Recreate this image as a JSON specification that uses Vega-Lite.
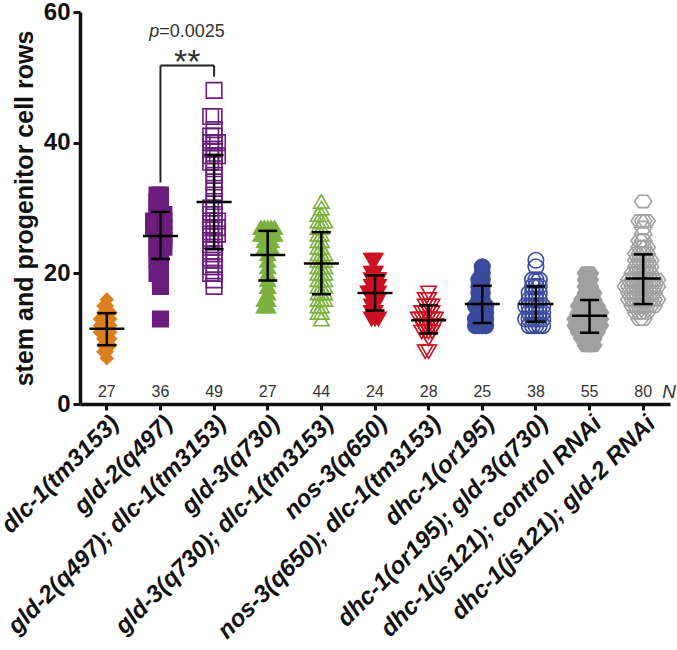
{
  "$schema": "https://vega.github.io/schema/vega-lite/v6.json",
  "width": 590,
  "height": 392,
  "autosize": "none",
  "padding": {"left": 80, "top": 12, "right": 7, "bottom": 246},
  "background": "white",
  "config": {
    "view": {"stroke": null},
    "font": "Liberation Sans",
    "axisY": {
      "labelFont": "Liberation Sans",
      "labelFontSize": 24,
      "labelFontWeight": "bold",
      "labelColor": "#111111",
      "labelPadding": 3,
      "tickSize": 7,
      "tickWidth": 3,
      "tickColor": "#111111",
      "domainWidth": 3.5,
      "domainColor": "#111111",
      "grid": false,
      "titleFont": "Liberation Sans",
      "titleFontSize": 25,
      "titleFontWeight": "bold",
      "titleColor": "#111111",
      "titlePadding": 6
    }
  },
  "datasets": {
    "points": [
      {"group":"dlc-1(tm3153)","value":7},{"group":"dlc-1(tm3153)","value":8},{"group":"dlc-1(tm3153)","value":8},{"group":"dlc-1(tm3153)","value":9},{"group":"dlc-1(tm3153)","value":9},{"group":"dlc-1(tm3153)","value":9},{"group":"dlc-1(tm3153)","value":10},{"group":"dlc-1(tm3153)","value":10},{"group":"dlc-1(tm3153)","value":10},{"group":"dlc-1(tm3153)","value":11},{"group":"dlc-1(tm3153)","value":11},{"group":"dlc-1(tm3153)","value":11},{"group":"dlc-1(tm3153)","value":11},{"group":"dlc-1(tm3153)","value":12},{"group":"dlc-1(tm3153)","value":12},{"group":"dlc-1(tm3153)","value":12},{"group":"dlc-1(tm3153)","value":12},{"group":"dlc-1(tm3153)","value":13},{"group":"dlc-1(tm3153)","value":13},{"group":"dlc-1(tm3153)","value":13},{"group":"dlc-1(tm3153)","value":13},{"group":"dlc-1(tm3153)","value":14},{"group":"dlc-1(tm3153)","value":14},{"group":"dlc-1(tm3153)","value":14},{"group":"dlc-1(tm3153)","value":15},{"group":"dlc-1(tm3153)","value":15},{"group":"dlc-1(tm3153)","value":16},
      {"group":"gld-2(q497)","value":13},{"group":"gld-2(q497)","value":18},{"group":"gld-2(q497)","value":19},{"group":"gld-2(q497)","value":20},{"group":"gld-2(q497)","value":20},{"group":"gld-2(q497)","value":21},{"group":"gld-2(q497)","value":22},{"group":"gld-2(q497)","value":22},{"group":"gld-2(q497)","value":23},{"group":"gld-2(q497)","value":23},{"group":"gld-2(q497)","value":24},{"group":"gld-2(q497)","value":24},{"group":"gld-2(q497)","value":24},{"group":"gld-2(q497)","value":25},{"group":"gld-2(q497)","value":25},{"group":"gld-2(q497)","value":25},{"group":"gld-2(q497)","value":26},{"group":"gld-2(q497)","value":26},{"group":"gld-2(q497)","value":26},{"group":"gld-2(q497)","value":27},{"group":"gld-2(q497)","value":27},{"group":"gld-2(q497)","value":27},{"group":"gld-2(q497)","value":27},{"group":"gld-2(q497)","value":28},{"group":"gld-2(q497)","value":28},{"group":"gld-2(q497)","value":28},{"group":"gld-2(q497)","value":28},{"group":"gld-2(q497)","value":29},{"group":"gld-2(q497)","value":29},{"group":"gld-2(q497)","value":29},{"group":"gld-2(q497)","value":30},{"group":"gld-2(q497)","value":30},{"group":"gld-2(q497)","value":31},{"group":"gld-2(q497)","value":31},{"group":"gld-2(q497)","value":32},{"group":"gld-2(q497)","value":32},
      {"group":"gld-2(q497); dlc-1(tm3153)","value":18},{"group":"gld-2(q497); dlc-1(tm3153)","value":19},{"group":"gld-2(q497); dlc-1(tm3153)","value":20},{"group":"gld-2(q497); dlc-1(tm3153)","value":20},{"group":"gld-2(q497); dlc-1(tm3153)","value":21},{"group":"gld-2(q497); dlc-1(tm3153)","value":21},{"group":"gld-2(q497); dlc-1(tm3153)","value":22},{"group":"gld-2(q497); dlc-1(tm3153)","value":22},{"group":"gld-2(q497); dlc-1(tm3153)","value":23},{"group":"gld-2(q497); dlc-1(tm3153)","value":23},{"group":"gld-2(q497); dlc-1(tm3153)","value":24},{"group":"gld-2(q497); dlc-1(tm3153)","value":24},{"group":"gld-2(q497); dlc-1(tm3153)","value":25},{"group":"gld-2(q497); dlc-1(tm3153)","value":25},{"group":"gld-2(q497); dlc-1(tm3153)","value":26},{"group":"gld-2(q497); dlc-1(tm3153)","value":26},{"group":"gld-2(q497); dlc-1(tm3153)","value":26},{"group":"gld-2(q497); dlc-1(tm3153)","value":27},{"group":"gld-2(q497); dlc-1(tm3153)","value":27},{"group":"gld-2(q497); dlc-1(tm3153)","value":27},{"group":"gld-2(q497); dlc-1(tm3153)","value":28},{"group":"gld-2(q497); dlc-1(tm3153)","value":28},{"group":"gld-2(q497); dlc-1(tm3153)","value":28},{"group":"gld-2(q497); dlc-1(tm3153)","value":29},{"group":"gld-2(q497); dlc-1(tm3153)","value":29},{"group":"gld-2(q497); dlc-1(tm3153)","value":30},{"group":"gld-2(q497); dlc-1(tm3153)","value":30},{"group":"gld-2(q497); dlc-1(tm3153)","value":31},{"group":"gld-2(q497); dlc-1(tm3153)","value":32},{"group":"gld-2(q497); dlc-1(tm3153)","value":33},{"group":"gld-2(q497); dlc-1(tm3153)","value":34},{"group":"gld-2(q497); dlc-1(tm3153)","value":35},{"group":"gld-2(q497); dlc-1(tm3153)","value":36},{"group":"gld-2(q497); dlc-1(tm3153)","value":37},{"group":"gld-2(q497); dlc-1(tm3153)","value":37},{"group":"gld-2(q497); dlc-1(tm3153)","value":38},{"group":"gld-2(q497); dlc-1(tm3153)","value":38},{"group":"gld-2(q497); dlc-1(tm3153)","value":38},{"group":"gld-2(q497); dlc-1(tm3153)","value":39},{"group":"gld-2(q497); dlc-1(tm3153)","value":39},{"group":"gld-2(q497); dlc-1(tm3153)","value":40},{"group":"gld-2(q497); dlc-1(tm3153)","value":40},{"group":"gld-2(q497); dlc-1(tm3153)","value":40},{"group":"gld-2(q497); dlc-1(tm3153)","value":41},{"group":"gld-2(q497); dlc-1(tm3153)","value":41},{"group":"gld-2(q497); dlc-1(tm3153)","value":42},{"group":"gld-2(q497); dlc-1(tm3153)","value":44},{"group":"gld-2(q497); dlc-1(tm3153)","value":44},{"group":"gld-2(q497); dlc-1(tm3153)","value":48},
      {"group":"gld-3(q730)","value":15},{"group":"gld-3(q730)","value":15},{"group":"gld-3(q730)","value":16},{"group":"gld-3(q730)","value":16},{"group":"gld-3(q730)","value":17},{"group":"gld-3(q730)","value":18},{"group":"gld-3(q730)","value":19},{"group":"gld-3(q730)","value":20},{"group":"gld-3(q730)","value":21},{"group":"gld-3(q730)","value":22},{"group":"gld-3(q730)","value":23},{"group":"gld-3(q730)","value":24},{"group":"gld-3(q730)","value":24},{"group":"gld-3(q730)","value":24},{"group":"gld-3(q730)","value":25},{"group":"gld-3(q730)","value":25},{"group":"gld-3(q730)","value":25},{"group":"gld-3(q730)","value":26},{"group":"gld-3(q730)","value":26},{"group":"gld-3(q730)","value":26},{"group":"gld-3(q730)","value":26},{"group":"gld-3(q730)","value":26},{"group":"gld-3(q730)","value":27},{"group":"gld-3(q730)","value":27},{"group":"gld-3(q730)","value":27},{"group":"gld-3(q730)","value":27},{"group":"gld-3(q730)","value":27},
      {"group":"gld-3(q730); dlc-1(tm3153)","value":13},{"group":"gld-3(q730); dlc-1(tm3153)","value":14},{"group":"gld-3(q730); dlc-1(tm3153)","value":14},{"group":"gld-3(q730); dlc-1(tm3153)","value":15},{"group":"gld-3(q730); dlc-1(tm3153)","value":15},{"group":"gld-3(q730); dlc-1(tm3153)","value":16},{"group":"gld-3(q730); dlc-1(tm3153)","value":16},{"group":"gld-3(q730); dlc-1(tm3153)","value":16},{"group":"gld-3(q730); dlc-1(tm3153)","value":17},{"group":"gld-3(q730); dlc-1(tm3153)","value":17},{"group":"gld-3(q730); dlc-1(tm3153)","value":17},{"group":"gld-3(q730); dlc-1(tm3153)","value":18},{"group":"gld-3(q730); dlc-1(tm3153)","value":18},{"group":"gld-3(q730); dlc-1(tm3153)","value":18},{"group":"gld-3(q730); dlc-1(tm3153)","value":19},{"group":"gld-3(q730); dlc-1(tm3153)","value":19},{"group":"gld-3(q730); dlc-1(tm3153)","value":19},{"group":"gld-3(q730); dlc-1(tm3153)","value":20},{"group":"gld-3(q730); dlc-1(tm3153)","value":20},{"group":"gld-3(q730); dlc-1(tm3153)","value":20},{"group":"gld-3(q730); dlc-1(tm3153)","value":21},{"group":"gld-3(q730); dlc-1(tm3153)","value":21},{"group":"gld-3(q730); dlc-1(tm3153)","value":21},{"group":"gld-3(q730); dlc-1(tm3153)","value":22},{"group":"gld-3(q730); dlc-1(tm3153)","value":22},{"group":"gld-3(q730); dlc-1(tm3153)","value":22},{"group":"gld-3(q730); dlc-1(tm3153)","value":23},{"group":"gld-3(q730); dlc-1(tm3153)","value":23},{"group":"gld-3(q730); dlc-1(tm3153)","value":23},{"group":"gld-3(q730); dlc-1(tm3153)","value":24},{"group":"gld-3(q730); dlc-1(tm3153)","value":24},{"group":"gld-3(q730); dlc-1(tm3153)","value":25},{"group":"gld-3(q730); dlc-1(tm3153)","value":25},{"group":"gld-3(q730); dlc-1(tm3153)","value":26},{"group":"gld-3(q730); dlc-1(tm3153)","value":26},{"group":"gld-3(q730); dlc-1(tm3153)","value":27},{"group":"gld-3(q730); dlc-1(tm3153)","value":27},{"group":"gld-3(q730); dlc-1(tm3153)","value":28},{"group":"gld-3(q730); dlc-1(tm3153)","value":28},{"group":"gld-3(q730); dlc-1(tm3153)","value":28},{"group":"gld-3(q730); dlc-1(tm3153)","value":29},{"group":"gld-3(q730); dlc-1(tm3153)","value":29},{"group":"gld-3(q730); dlc-1(tm3153)","value":30},{"group":"gld-3(q730); dlc-1(tm3153)","value":31},
      {"group":"nos-3(q650)","value":13},{"group":"nos-3(q650)","value":13},{"group":"nos-3(q650)","value":13},{"group":"nos-3(q650)","value":14},{"group":"nos-3(q650)","value":14},{"group":"nos-3(q650)","value":15},{"group":"nos-3(q650)","value":15},{"group":"nos-3(q650)","value":16},{"group":"nos-3(q650)","value":16},{"group":"nos-3(q650)","value":16},{"group":"nos-3(q650)","value":17},{"group":"nos-3(q650)","value":17},{"group":"nos-3(q650)","value":17},{"group":"nos-3(q650)","value":17},{"group":"nos-3(q650)","value":18},{"group":"nos-3(q650)","value":18},{"group":"nos-3(q650)","value":18},{"group":"nos-3(q650)","value":19},{"group":"nos-3(q650)","value":19},{"group":"nos-3(q650)","value":19},{"group":"nos-3(q650)","value":20},{"group":"nos-3(q650)","value":20},{"group":"nos-3(q650)","value":22},{"group":"nos-3(q650)","value":22},
      {"group":"nos-3(q650); dlc-1(tm3153)","value":8},{"group":"nos-3(q650); dlc-1(tm3153)","value":8},{"group":"nos-3(q650); dlc-1(tm3153)","value":10},{"group":"nos-3(q650); dlc-1(tm3153)","value":11},{"group":"nos-3(q650); dlc-1(tm3153)","value":11},{"group":"nos-3(q650); dlc-1(tm3153)","value":11},{"group":"nos-3(q650); dlc-1(tm3153)","value":11},{"group":"nos-3(q650); dlc-1(tm3153)","value":12},{"group":"nos-3(q650); dlc-1(tm3153)","value":12},{"group":"nos-3(q650); dlc-1(tm3153)","value":12},{"group":"nos-3(q650); dlc-1(tm3153)","value":12},{"group":"nos-3(q650); dlc-1(tm3153)","value":12},{"group":"nos-3(q650); dlc-1(tm3153)","value":13},{"group":"nos-3(q650); dlc-1(tm3153)","value":13},{"group":"nos-3(q650); dlc-1(tm3153)","value":13},{"group":"nos-3(q650); dlc-1(tm3153)","value":13},{"group":"nos-3(q650); dlc-1(tm3153)","value":13},{"group":"nos-3(q650); dlc-1(tm3153)","value":13},{"group":"nos-3(q650); dlc-1(tm3153)","value":14},{"group":"nos-3(q650); dlc-1(tm3153)","value":14},{"group":"nos-3(q650); dlc-1(tm3153)","value":14},{"group":"nos-3(q650); dlc-1(tm3153)","value":14},{"group":"nos-3(q650); dlc-1(tm3153)","value":15},{"group":"nos-3(q650); dlc-1(tm3153)","value":15},{"group":"nos-3(q650); dlc-1(tm3153)","value":15},{"group":"nos-3(q650); dlc-1(tm3153)","value":16},{"group":"nos-3(q650); dlc-1(tm3153)","value":16},{"group":"nos-3(q650); dlc-1(tm3153)","value":17},
      {"group":"dhc-1(or195)","value":12},{"group":"dhc-1(or195)","value":12},{"group":"dhc-1(or195)","value":12},{"group":"dhc-1(or195)","value":12},{"group":"dhc-1(or195)","value":13},{"group":"dhc-1(or195)","value":13},{"group":"dhc-1(or195)","value":13},{"group":"dhc-1(or195)","value":13},{"group":"dhc-1(or195)","value":14},{"group":"dhc-1(or195)","value":14},{"group":"dhc-1(or195)","value":14},{"group":"dhc-1(or195)","value":15},{"group":"dhc-1(or195)","value":15},{"group":"dhc-1(or195)","value":15},{"group":"dhc-1(or195)","value":15},{"group":"dhc-1(or195)","value":16},{"group":"dhc-1(or195)","value":16},{"group":"dhc-1(or195)","value":17},{"group":"dhc-1(or195)","value":17},{"group":"dhc-1(or195)","value":18},{"group":"dhc-1(or195)","value":18},{"group":"dhc-1(or195)","value":19},{"group":"dhc-1(or195)","value":19},{"group":"dhc-1(or195)","value":20},{"group":"dhc-1(or195)","value":21},
      {"group":"dhc-1(or195); gld-3(q730)","value":12},{"group":"dhc-1(or195); gld-3(q730)","value":12},{"group":"dhc-1(or195); gld-3(q730)","value":12},{"group":"dhc-1(or195); gld-3(q730)","value":12},{"group":"dhc-1(or195); gld-3(q730)","value":12},{"group":"dhc-1(or195); gld-3(q730)","value":13},{"group":"dhc-1(or195); gld-3(q730)","value":13},{"group":"dhc-1(or195); gld-3(q730)","value":13},{"group":"dhc-1(or195); gld-3(q730)","value":13},{"group":"dhc-1(or195); gld-3(q730)","value":13},{"group":"dhc-1(or195); gld-3(q730)","value":13},{"group":"dhc-1(or195); gld-3(q730)","value":14},{"group":"dhc-1(or195); gld-3(q730)","value":14},{"group":"dhc-1(or195); gld-3(q730)","value":14},{"group":"dhc-1(or195); gld-3(q730)","value":14},{"group":"dhc-1(or195); gld-3(q730)","value":14},{"group":"dhc-1(or195); gld-3(q730)","value":15},{"group":"dhc-1(or195); gld-3(q730)","value":15},{"group":"dhc-1(or195); gld-3(q730)","value":15},{"group":"dhc-1(or195); gld-3(q730)","value":15},{"group":"dhc-1(or195); gld-3(q730)","value":15},{"group":"dhc-1(or195); gld-3(q730)","value":15},{"group":"dhc-1(or195); gld-3(q730)","value":16},{"group":"dhc-1(or195); gld-3(q730)","value":16},{"group":"dhc-1(or195); gld-3(q730)","value":16},{"group":"dhc-1(or195); gld-3(q730)","value":16},{"group":"dhc-1(or195); gld-3(q730)","value":17},{"group":"dhc-1(or195); gld-3(q730)","value":17},{"group":"dhc-1(or195); gld-3(q730)","value":17},{"group":"dhc-1(or195); gld-3(q730)","value":17},{"group":"dhc-1(or195); gld-3(q730)","value":18},{"group":"dhc-1(or195); gld-3(q730)","value":18},{"group":"dhc-1(or195); gld-3(q730)","value":18},{"group":"dhc-1(or195); gld-3(q730)","value":19},{"group":"dhc-1(or195); gld-3(q730)","value":19},{"group":"dhc-1(or195); gld-3(q730)","value":19},{"group":"dhc-1(or195); gld-3(q730)","value":21},{"group":"dhc-1(or195); gld-3(q730)","value":22},
      {"group":"dhc-1(js121); control RNAi","value":9},{"group":"dhc-1(js121); control RNAi","value":9},{"group":"dhc-1(js121); control RNAi","value":9},{"group":"dhc-1(js121); control RNAi","value":10},{"group":"dhc-1(js121); control RNAi","value":10},{"group":"dhc-1(js121); control RNAi","value":10},{"group":"dhc-1(js121); control RNAi","value":10},{"group":"dhc-1(js121); control RNAi","value":11},{"group":"dhc-1(js121); control RNAi","value":11},{"group":"dhc-1(js121); control RNAi","value":11},{"group":"dhc-1(js121); control RNAi","value":11},{"group":"dhc-1(js121); control RNAi","value":11},{"group":"dhc-1(js121); control RNAi","value":11},{"group":"dhc-1(js121); control RNAi","value":12},{"group":"dhc-1(js121); control RNAi","value":12},{"group":"dhc-1(js121); control RNAi","value":12},{"group":"dhc-1(js121); control RNAi","value":12},{"group":"dhc-1(js121); control RNAi","value":12},{"group":"dhc-1(js121); control RNAi","value":12},{"group":"dhc-1(js121); control RNAi","value":12},{"group":"dhc-1(js121); control RNAi","value":12},{"group":"dhc-1(js121); control RNAi","value":13},{"group":"dhc-1(js121); control RNAi","value":13},{"group":"dhc-1(js121); control RNAi","value":13},{"group":"dhc-1(js121); control RNAi","value":13},{"group":"dhc-1(js121); control RNAi","value":13},{"group":"dhc-1(js121); control RNAi","value":13},{"group":"dhc-1(js121); control RNAi","value":13},{"group":"dhc-1(js121); control RNAi","value":13},{"group":"dhc-1(js121); control RNAi","value":14},{"group":"dhc-1(js121); control RNAi","value":14},{"group":"dhc-1(js121); control RNAi","value":14},{"group":"dhc-1(js121); control RNAi","value":14},{"group":"dhc-1(js121); control RNAi","value":14},{"group":"dhc-1(js121); control RNAi","value":14},{"group":"dhc-1(js121); control RNAi","value":14},{"group":"dhc-1(js121); control RNAi","value":15},{"group":"dhc-1(js121); control RNAi","value":15},{"group":"dhc-1(js121); control RNAi","value":15},{"group":"dhc-1(js121); control RNAi","value":15},{"group":"dhc-1(js121); control RNAi","value":15},{"group":"dhc-1(js121); control RNAi","value":15},{"group":"dhc-1(js121); control RNAi","value":16},{"group":"dhc-1(js121); control RNAi","value":16},{"group":"dhc-1(js121); control RNAi","value":16},{"group":"dhc-1(js121); control RNAi","value":16},{"group":"dhc-1(js121); control RNAi","value":17},{"group":"dhc-1(js121); control RNAi","value":17},{"group":"dhc-1(js121); control RNAi","value":17},{"group":"dhc-1(js121); control RNAi","value":18},{"group":"dhc-1(js121); control RNAi","value":18},{"group":"dhc-1(js121); control RNAi","value":19},{"group":"dhc-1(js121); control RNAi","value":19},{"group":"dhc-1(js121); control RNAi","value":20},{"group":"dhc-1(js121); control RNAi","value":20},
      {"group":"dhc-1(js121); gld-2 RNAi","value":13},{"group":"dhc-1(js121); gld-2 RNAi","value":13},{"group":"dhc-1(js121); gld-2 RNAi","value":14},{"group":"dhc-1(js121); gld-2 RNAi","value":14},{"group":"dhc-1(js121); gld-2 RNAi","value":14},{"group":"dhc-1(js121); gld-2 RNAi","value":14},{"group":"dhc-1(js121); gld-2 RNAi","value":15},{"group":"dhc-1(js121); gld-2 RNAi","value":15},{"group":"dhc-1(js121); gld-2 RNAi","value":15},{"group":"dhc-1(js121); gld-2 RNAi","value":15},{"group":"dhc-1(js121); gld-2 RNAi","value":15},{"group":"dhc-1(js121); gld-2 RNAi","value":15},{"group":"dhc-1(js121); gld-2 RNAi","value":15},{"group":"dhc-1(js121); gld-2 RNAi","value":16},{"group":"dhc-1(js121); gld-2 RNAi","value":16},{"group":"dhc-1(js121); gld-2 RNAi","value":16},{"group":"dhc-1(js121); gld-2 RNAi","value":16},{"group":"dhc-1(js121); gld-2 RNAi","value":16},{"group":"dhc-1(js121); gld-2 RNAi","value":16},{"group":"dhc-1(js121); gld-2 RNAi","value":16},{"group":"dhc-1(js121); gld-2 RNAi","value":16},{"group":"dhc-1(js121); gld-2 RNAi","value":16},{"group":"dhc-1(js121); gld-2 RNAi","value":17},{"group":"dhc-1(js121); gld-2 RNAi","value":17},{"group":"dhc-1(js121); gld-2 RNAi","value":17},{"group":"dhc-1(js121); gld-2 RNAi","value":17},{"group":"dhc-1(js121); gld-2 RNAi","value":17},{"group":"dhc-1(js121); gld-2 RNAi","value":17},{"group":"dhc-1(js121); gld-2 RNAi","value":17},{"group":"dhc-1(js121); gld-2 RNAi","value":17},{"group":"dhc-1(js121); gld-2 RNAi","value":18},{"group":"dhc-1(js121); gld-2 RNAi","value":18},{"group":"dhc-1(js121); gld-2 RNAi","value":18},{"group":"dhc-1(js121); gld-2 RNAi","value":18},{"group":"dhc-1(js121); gld-2 RNAi","value":18},{"group":"dhc-1(js121); gld-2 RNAi","value":18},{"group":"dhc-1(js121); gld-2 RNAi","value":18},{"group":"dhc-1(js121); gld-2 RNAi","value":18},{"group":"dhc-1(js121); gld-2 RNAi","value":18},{"group":"dhc-1(js121); gld-2 RNAi","value":18},{"group":"dhc-1(js121); gld-2 RNAi","value":19},{"group":"dhc-1(js121); gld-2 RNAi","value":19},{"group":"dhc-1(js121); gld-2 RNAi","value":19},{"group":"dhc-1(js121); gld-2 RNAi","value":19},{"group":"dhc-1(js121); gld-2 RNAi","value":19},{"group":"dhc-1(js121); gld-2 RNAi","value":19},{"group":"dhc-1(js121); gld-2 RNAi","value":19},{"group":"dhc-1(js121); gld-2 RNAi","value":19},{"group":"dhc-1(js121); gld-2 RNAi","value":19},{"group":"dhc-1(js121); gld-2 RNAi","value":20},{"group":"dhc-1(js121); gld-2 RNAi","value":20},{"group":"dhc-1(js121); gld-2 RNAi","value":20},{"group":"dhc-1(js121); gld-2 RNAi","value":20},{"group":"dhc-1(js121); gld-2 RNAi","value":20},{"group":"dhc-1(js121); gld-2 RNAi","value":20},{"group":"dhc-1(js121); gld-2 RNAi","value":21},{"group":"dhc-1(js121); gld-2 RNAi","value":21},{"group":"dhc-1(js121); gld-2 RNAi","value":21},{"group":"dhc-1(js121); gld-2 RNAi","value":21},{"group":"dhc-1(js121); gld-2 RNAi","value":21},{"group":"dhc-1(js121); gld-2 RNAi","value":22},{"group":"dhc-1(js121); gld-2 RNAi","value":22},{"group":"dhc-1(js121); gld-2 RNAi","value":22},{"group":"dhc-1(js121); gld-2 RNAi","value":22},{"group":"dhc-1(js121); gld-2 RNAi","value":22},{"group":"dhc-1(js121); gld-2 RNAi","value":23},{"group":"dhc-1(js121); gld-2 RNAi","value":23},{"group":"dhc-1(js121); gld-2 RNAi","value":23},{"group":"dhc-1(js121); gld-2 RNAi","value":23},{"group":"dhc-1(js121); gld-2 RNAi","value":24},{"group":"dhc-1(js121); gld-2 RNAi","value":24},{"group":"dhc-1(js121); gld-2 RNAi","value":24},{"group":"dhc-1(js121); gld-2 RNAi","value":25},{"group":"dhc-1(js121); gld-2 RNAi","value":25},{"group":"dhc-1(js121); gld-2 RNAi","value":26},{"group":"dhc-1(js121); gld-2 RNAi","value":27},{"group":"dhc-1(js121); gld-2 RNAi","value":28},{"group":"dhc-1(js121); gld-2 RNAi","value":28},{"group":"dhc-1(js121); gld-2 RNAi","value":28},{"group":"dhc-1(js121); gld-2 RNAi","value":31}
    ],
    "summary": [
      {"group":"dlc-1(tm3153)","mean":11.5,"lo":9.0,"hi":13.9,"n":27},
      {"group":"gld-2(q497)","mean":25.7,"lo":22.2,"hi":29.4,"n":36},
      {"group":"gld-2(q497); dlc-1(tm3153)","mean":30.9,"lo":23.7,"hi":38.1,"n":49},
      {"group":"gld-3(q730)","mean":22.8,"lo":18.9,"hi":26.5,"n":27},
      {"group":"gld-3(q730); dlc-1(tm3153)","mean":21.5,"lo":16.8,"hi":26.3,"n":44},
      {"group":"nos-3(q650)","mean":17.0,"lo":14.3,"hi":19.7,"n":24},
      {"group":"nos-3(q650); dlc-1(tm3153)","mean":12.8,"lo":10.8,"hi":15.1,"n":28},
      {"group":"dhc-1(or195)","mean":15.3,"lo":12.4,"hi":18.1,"n":25},
      {"group":"dhc-1(or195); gld-3(q730)","mean":15.3,"lo":12.6,"hi":18.0,"n":38},
      {"group":"dhc-1(js121); control RNAi","mean":13.5,"lo":10.9,"hi":15.9,"n":55},
      {"group":"dhc-1(js121); gld-2 RNAi","mean":19.2,"lo":15.3,"hi":22.9,"n":80}
    ],
    "bracket": [
      {"group":"gld-2(q497)","group2":"gld-2(q497)","y1":33.9,"y2":51.8},
      {"group":"gld-2(q497)","group2":"gld-2(q497); dlc-1(tm3153)","y1":51.8,"y2":51.8},
      {"group":"gld-2(q497); dlc-1(tm3153)","group2":"gld-2(q497); dlc-1(tm3153)","y1":50.1,"y2":51.8}
    ]
  },
  "encoding": {
    "x": {
      "field": "group",
      "type": "nominal",
      "title": null,
      "scale": {
        "domain": ["dlc-1(tm3153)","gld-2(q497)","gld-2(q497); dlc-1(tm3153)","gld-3(q730)","gld-3(q730); dlc-1(tm3153)","nos-3(q650)","nos-3(q650); dlc-1(tm3153)","dhc-1(or195)","dhc-1(or195); gld-3(q730)","dhc-1(js121); control RNAi","dhc-1(js121); gld-2 RNAi"],
        "paddingInner": 0.3,
        "paddingOuter": 0.15
      },
      "axis": {
        "labelAngle": -45,
        "labelAlign": "right",
        "labelBaseline": "top",
        "labelFont": "Liberation Sans",
        "labelFontSize": 24,
        "labelFontWeight": "bold",
        "labelFontStyle": "italic",
        "labelColor": "#111111",
        "labelLimit": 500,
        "labelPadding": 1,
        "tickSize": 6,
        "tickWidth": 3,
        "tickColor": "#111111",
        "domainWidth": 3.5,
        "domainColor": "#111111",
        "grid": false
      }
    }
  },
  "layer": [
    {
      "data": {"name": "points"},
      "transform": [{"window": [{"op": "row_number", "as": "r"}], "groupby": ["group", "value"]}],
      "mark": {"type": "point", "opacity": 1, "strokeWidth": 1.6, "size": 240},
      "encoding": {
        "xOffset": {"field": "r", "type": "ordinal", "scale": {"type": "point", "domain": [10,8,6,4,2,1,3,5,7,9,11], "padding": 0.5}},
        "y": {"field": "value", "type": "quantitative", "title": "stem and progenitor cell rows", "scale": {"domain": [0, 60], "nice": false}, "axis": {"values": [0, 20, 40, 60]}},
        "shape": {
          "field": "group", "type": "nominal", "legend": null,
          "scale": {
            "domain": ["dlc-1(tm3153)","gld-2(q497)","gld-2(q497); dlc-1(tm3153)","gld-3(q730)","gld-3(q730); dlc-1(tm3153)","nos-3(q650)","nos-3(q650); dlc-1(tm3153)","dhc-1(or195)","dhc-1(or195); gld-3(q730)","dhc-1(js121); control RNAi","dhc-1(js121); gld-2 RNAi"],
            "range": ["M0,-0.8L0.8,0L0,0.8L-0.8,0Z","square","square","triangle-up","triangle-up","triangle-down","triangle-down","circle","circle","M-1.12,0L-0.56,-0.8L0.56,-0.8L1.12,0L0.56,0.8L-0.56,0.8Z","M-1.12,0L-0.56,-0.8L0.56,-0.8L1.12,0L0.56,0.8L-0.56,0.8Z"]
          }
        },
        "stroke": {
          "field": "group", "type": "nominal", "legend": null,
          "scale": {
            "domain": ["dlc-1(tm3153)","gld-2(q497)","gld-2(q497); dlc-1(tm3153)","gld-3(q730)","gld-3(q730); dlc-1(tm3153)","nos-3(q650)","nos-3(q650); dlc-1(tm3153)","dhc-1(or195)","dhc-1(or195); gld-3(q730)","dhc-1(js121); control RNAi","dhc-1(js121); gld-2 RNAi"],
            "range": ["#dd7f1f","#6b1d7d","#6b1d7d","#7db13f","#7db13f","#cc1122","#cc1122","#3c4b9d","#3c4b9d","#a0a0a0","#a0a0a0"]
          }
        },
        "fill": {
          "field": "group", "type": "nominal", "legend": null,
          "scale": {
            "domain": ["dlc-1(tm3153)","gld-2(q497)","gld-2(q497); dlc-1(tm3153)","gld-3(q730)","gld-3(q730); dlc-1(tm3153)","nos-3(q650)","nos-3(q650); dlc-1(tm3153)","dhc-1(or195)","dhc-1(or195); gld-3(q730)","dhc-1(js121); control RNAi","dhc-1(js121); gld-2 RNAi"],
            "range": ["#dd7f1f","#6b1d7d","transparent","#7db13f","transparent","#cc1122","transparent","#3c4b9d","transparent","#a0a0a0","transparent"]
          }
        }
      }
    },
    {
      "data": {"name": "summary"},
      "mark": {"type": "rule", "color": "#000000", "strokeWidth": 2.5},
      "encoding": {
        "y": {"field": "lo", "type": "quantitative", "title": "stem and progenitor cell rows", "axis": {"values": [0, 20, 40, 60]}},
        "y2": {"field": "hi"}
      }
    },
    {
      "data": {"name": "summary"},
      "mark": {"type": "tick", "color": "#000000", "thickness": 2.5, "size": 19, "opacity": 1},
      "encoding": {"y": {"field": "lo", "type": "quantitative", "title": "stem and progenitor cell rows", "axis": {"values": [0, 20, 40, 60]}}}
    },
    {
      "data": {"name": "summary"},
      "mark": {"type": "tick", "color": "#000000", "thickness": 2.5, "size": 19, "opacity": 1},
      "encoding": {"y": {"field": "hi", "type": "quantitative", "title": "stem and progenitor cell rows", "axis": {"values": [0, 20, 40, 60]}}}
    },
    {
      "data": {"name": "summary"},
      "mark": {"type": "tick", "color": "#000000", "thickness": 2.5, "size": 35, "opacity": 1},
      "encoding": {"y": {"field": "mean", "type": "quantitative", "title": "stem and progenitor cell rows", "axis": {"values": [0, 20, 40, 60]}}}
    },
    {
      "data": {"name": "summary"},
      "mark": {"type": "text", "font": "Liberation Sans", "fontSize": 16, "color": "#333333", "baseline": "middle"},
      "encoding": {
        "y": {"datum": 1.8, "type": "quantitative", "title": "stem and progenitor cell rows", "axis": {"values": [0, 20, 40, 60]}},
        "text": {"field": "n", "type": "quantitative"}
      }
    },
    {
      "data": {"values": [{"group": "dhc-1(js121); gld-2 RNAi", "label": "N"}]},
      "mark": {"type": "text", "font": "Liberation Sans", "fontSize": 19, "fontStyle": "italic", "color": "#333333", "baseline": "middle", "dx": 26},
      "encoding": {
        "y": {"datum": 1.8, "type": "quantitative", "title": "stem and progenitor cell rows", "axis": {"values": [0, 20, 40, 60]}},
        "text": {"field": "label", "type": "nominal"}
      }
    },
    {
      "data": {"name": "bracket"},
      "mark": {"type": "rule", "color": "#222222", "strokeWidth": 2},
      "encoding": {
        "x2": {"field": "group2"},
        "y": {"field": "y1", "type": "quantitative", "title": "stem and progenitor cell rows", "axis": {"values": [0, 20, 40, 60]}},
        "y2": {"field": "y2"}
      }
    },
    {
      "data": {"values": [{"group": "gld-2(q497)", "y": 50.6, "label": "**"}]},
      "mark": {"type": "text", "font": "Liberation Sans", "fontSize": 34, "color": "#333333", "align": "center", "baseline": "alphabetic", "dx": 26.8},
      "encoding": {
        "y": {"field": "y", "type": "quantitative", "title": "stem and progenitor cell rows", "axis": {"values": [0, 20, 40, 60]}},
        "text": {"field": "label", "type": "nominal"}
      }
    },
    {
      "data": {"values": [{"group": "gld-2(q497)", "y": 57.0, "label": "p"}]},
      "mark": {"type": "text", "font": "Liberation Sans", "fontSize": 18, "fontStyle": "italic", "color": "#333333", "align": "left", "baseline": "middle", "dx": -11.3},
      "encoding": {
        "y": {"field": "y", "type": "quantitative", "title": "stem and progenitor cell rows", "axis": {"values": [0, 20, 40, 60]}},
        "text": {"field": "label", "type": "nominal"}
      }
    },
    {
      "data": {"values": [{"group": "gld-2(q497)", "y": 57.0, "label": "=0.0025"}]},
      "mark": {"type": "text", "font": "Liberation Sans", "fontSize": 18, "color": "#333333", "align": "left", "baseline": "middle", "dx": -1.3},
      "encoding": {
        "y": {"field": "y", "type": "quantitative", "title": "stem and progenitor cell rows", "axis": {"values": [0, 20, 40, 60]}},
        "text": {"field": "label", "type": "nominal"}
      }
    }
  ]
}
